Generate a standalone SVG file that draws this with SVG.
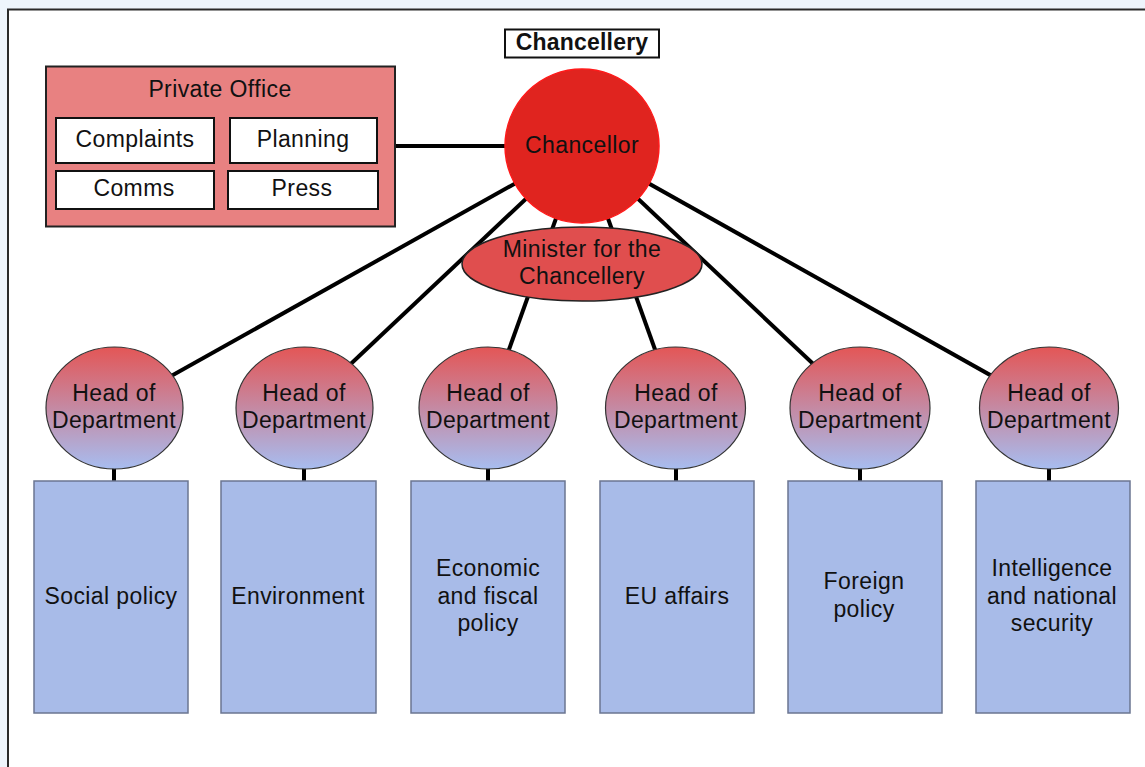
<svg xmlns="http://www.w3.org/2000/svg" width="1145" height="767" viewBox="0 0 1145 767">
<defs>
<linearGradient id="hod" x1="0" y1="0" x2="0" y2="1">
<stop offset="0" stop-color="#e35656"/>
<stop offset="1" stop-color="#a7bdf0"/>
</linearGradient>
<style>
text{font-family:"Liberation Sans",Arial,sans-serif;font-size:23px;fill:#111;text-anchor:middle;letter-spacing:0.4px}
.b{font-weight:bold;letter-spacing:0.2px}
.conn line{stroke:#000;stroke-width:4}
.hod{fill:url(#hod);stroke:#333;stroke-width:1.2}
.box{fill:#a8bbe8;stroke:#6b7691;stroke-width:1.5}
.wb{fill:#fff;stroke:#111;stroke-width:2}
</style>
</defs>
<rect x="0" y="0" width="1145" height="767" fill="#eef5fc"/>
<rect x="8" y="9.5" width="1160" height="780" fill="#fff" stroke="#2a2a2a" stroke-width="2"/>
<g class="conn">
<line x1="395" y1="146" x2="582" y2="146"/>
<line x1="582" y1="146" x2="114" y2="408"/>
<line x1="582" y1="146" x2="304" y2="408"/>
<line x1="582" y1="146" x2="488" y2="408"/>
<line x1="582" y1="146" x2="676" y2="408"/>
<line x1="582" y1="146" x2="860" y2="408"/>
<line x1="582" y1="146" x2="1049" y2="408"/>
<line x1="114" y1="408" x2="114" y2="482"/>
<line x1="304" y1="408" x2="304" y2="482"/>
<line x1="488" y1="408" x2="488" y2="482"/>
<line x1="676" y1="408" x2="676" y2="482"/>
<line x1="860" y1="408" x2="860" y2="482"/>
<line x1="1049" y1="408" x2="1049" y2="482"/>
</g>
<g id="chancellery-label">
<rect x="505" y="29.5" width="154" height="28" class="wb"/>
<text x="582" y="50" class="b">Chancellery</text>
</g>
<g id="private-office">
<rect x="46" y="66.5" width="349" height="160" fill="#e88181" stroke="#222" stroke-width="2"/>
<text x="220" y="97">Private Office</text>
</g>
<g id="complaints"><rect x="56" y="118" width="158" height="45" class="wb"/><text x="135" y="147">Complaints</text></g>
<g id="planning"><rect x="230" y="118" width="147" height="45" class="wb"/><text x="303" y="147">Planning</text></g>
<g id="comms"><rect x="56" y="171" width="158" height="38" class="wb"/><text x="134" y="196">Comms</text></g>
<g id="press"><rect x="228" y="171" width="150" height="38" class="wb"/><text x="302" y="196">Press</text></g>
<g id="chancellor">
<circle cx="582" cy="146" r="77" fill="#e0241f" stroke="#ff1a1a" stroke-width="1.5"/>
<text x="582" y="153">Chancellor</text>
</g>
<g id="minister">
<ellipse cx="582" cy="264" rx="120" ry="37" fill="#e04e4e" stroke="#222" stroke-width="1.5"/>
<text x="582" y="257">Minister for the</text>
<text x="582" y="284">Chancellery</text>
</g>
<g id="hod1"><ellipse cx="114.5" cy="408" rx="68.5" ry="61" class="hod"/><text x="114" y="401">Head of</text><text x="114" y="428">Department</text></g>
<g id="hod2"><ellipse cx="304.5" cy="408" rx="68.5" ry="61" class="hod"/><text x="304" y="401">Head of</text><text x="304" y="428">Department</text></g>
<g id="hod3"><ellipse cx="488" cy="408" rx="69" ry="61" class="hod"/><text x="488" y="401">Head of</text><text x="488" y="428">Department</text></g>
<g id="hod4"><ellipse cx="675.5" cy="408" rx="70" ry="61" class="hod"/><text x="676" y="401">Head of</text><text x="676" y="428">Department</text></g>
<g id="hod5"><ellipse cx="860" cy="408" rx="70" ry="61" class="hod"/><text x="860" y="401">Head of</text><text x="860" y="428">Department</text></g>
<g id="hod6"><ellipse cx="1049" cy="408" rx="69.5" ry="61" class="hod"/><text x="1049" y="401">Head of</text><text x="1049" y="428">Department</text></g>
<g id="social"><rect x="34" y="481" width="154" height="232" class="box"/><text x="111" y="604">Social policy</text></g>
<g id="environment"><rect x="221" y="481" width="155" height="232" class="box"/><text x="298" y="604">Environment</text></g>
<g id="economic"><rect x="411" y="481" width="154" height="232" class="box"/><text x="488" y="576">Economic</text><text x="488" y="604">and fiscal</text><text x="488" y="631">policy</text></g>
<g id="eu"><rect x="600" y="481" width="154" height="232" class="box"/><text x="677" y="604">EU affairs</text></g>
<g id="foreign"><rect x="788" y="481" width="154" height="232" class="box"/><text x="864" y="589">Foreign</text><text x="864" y="617">policy</text></g>
<g id="intelligence"><rect x="976" y="481" width="154" height="232" class="box"/><text x="1052" y="576">Intelligence</text><text x="1052" y="604">and national</text><text x="1052" y="631">security</text></g>
</svg>
